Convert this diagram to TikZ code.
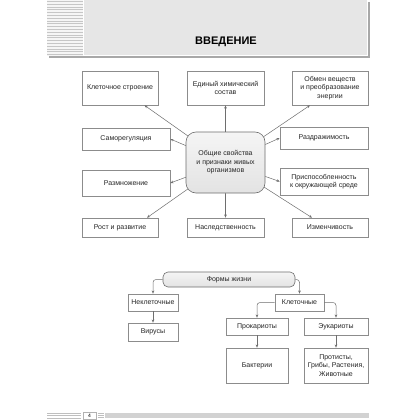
\documentclass[tikz,border=0pt]{standalone}
\usepackage{fontspec}
\setmainfont{Liberation Sans}
\usetikzlibrary{arrows.meta}
\definecolor{bordc}{HTML}{8C8C8C}
\definecolor{linec}{HTML}{6E6E6E}
\definecolor{hdr}{HTML}{E6E6E6}
\definecolor{shad}{HTML}{A8A8A8}
\begin{document}
\begin{tikzpicture}[x=1pt,y=-1pt,
  box/.style={draw=bordc, line width=0.6pt, fill=white, inner sep=0pt, align=center,
    font=\fontsize{7}{8.5}\selectfont, text=black!85},
  hub/.style={box, rounded corners=10pt, top color=gray!8, bottom color=gray!22, draw=linec},
  arr/.style={draw=linec, line width=0.5pt, -{Stealth[length=3.2pt,width=2.6pt]}},
  conn/.style={arr, rounded corners=3pt}]
\useasboundingbox (0,0) rectangle (420,420);
\fill[white] (0,0) rectangle (420,420);
% header
\fill[shad] (49,2) rectangle (370,58);
\fill[hdr] (47,0) rectangle (368,56);
\fill[gray!8] (47,0) rectangle (83,56);
\foreach \yy in {1.5,4.3,...,55} \draw[gray!45, line width=0.9pt] (47,\yy) -- (83,\yy);
\draw[white, line width=0.7pt] (83.3,0) -- (83.3,55.3) -- (367.3,55.3) -- (367.3,0);
\node[font=\fontsize{11}{13}\selectfont\bfseries, text=black] (title) at (226,42) {ВВЕДЕНИЕ};
% upper diagram boxes
\node[box, minimum width=76pt, minimum height=34pt] (kl) at (120,88) {Клеточное строение};
\node[box, minimum width=77pt, minimum height=34pt] (ed) at (225.5,88) {Единый химический\\состав};
\node[box, minimum width=76pt, minimum height=34pt] (ob) at (330,88) {Обмен веществ\\и преобразование\\энергии};
\node[box, minimum width=88pt, minimum height=22pt] (sam) at (126,139) {Саморегуляция};
\node[box, minimum width=88pt, minimum height=22pt] (raz) at (324,138) {Раздражимость};
\node[box, minimum width=88pt, minimum height=26pt] (razm) at (126,183) {Размножение};
\node[box, minimum width=88pt, minimum height=27pt] (pri) at (324,181.5) {Приспособленность\\к окружающей среде};
\node[box, minimum width=76pt, minimum height=19pt] (rost) at (120,227.5) {Рост и развитие};
\node[box, minimum width=77pt, minimum height=19pt] (nas) at (225.5,227.5) {Наследственность};
\node[box, minimum width=76pt, minimum height=19pt] (izm) at (330,227.5) {Изменчивость};
\coordinate (cc) at (225.5,162.5);
\draw[arr] (cc) -- (kl);
\draw[arr] (cc) -- (ed);
\draw[arr] (cc) -- ([xshift=-20pt]ob.south);
\draw[arr] (cc) -- (sam.east);
\draw[arr] (cc) -- (raz.west);
\draw[arr] (cc) -- (razm.east);
\draw[arr] (cc) -- (pri.west);
\draw[arr] (cc) -- ([xshift=27pt]rost.north);
\draw[arr] (cc) -- (nas);
\draw[arr] (cc) -- ([xshift=-18pt]izm.north);
\node[hub, minimum width=79pt, minimum height=61pt] (hubn) at (cc) {Общие свойства\\и признаки живых\\организмов};
% lower diagram
\node[box, rounded corners=5pt, top color=gray!8, bottom color=gray!22, draw=linec,
  minimum width=132pt, minimum height=15pt] (fj) at (229,279.5) {Формы жизни};
\node[box, minimum width=50pt, minimum height=17pt] (nk) at (153,302.5) {Неклеточные};
\node[box, minimum width=50pt, minimum height=18pt] (vir) at (153,332) {Вирусы};
\node[box, minimum width=49pt, minimum height=17pt] (kle) at (299.5,302.5) {Клеточные};
\node[box, minimum width=62pt, minimum height=17pt] (pro) at (257,326.5) {Прокариоты};
\node[box, minimum width=64pt, minimum height=17pt] (euk) at (336,326.5) {Эукариоты};
\node[box, minimum width=62pt, minimum height=35pt] (bak) at (257,365.5) {Бактерии};
\node[box, minimum width=64pt, minimum height=35pt] (prot) at (336,365.5) {Протисты,\\Грибы, Растения,\\Животные};
\draw[conn] (fj.west) -| (nk.north);
\draw[arr] (nk) -- (vir);
\draw[conn] (fj.east) -| (kle.north);
\draw[conn] (kle.west) -| (pro.north);
\draw[conn] (kle.east) -| (euk.north);
\draw[arr] (pro) -- (bak);
\draw[arr] (euk) -- (prot);
% footer
\foreach \yy in {413,415.5,418} \draw[gray!50, line width=0.5pt] (47,\yy) -- (81,\yy);
\node[draw=gray!60, fill=white, minimum width=13pt, minimum height=7.5pt, inner sep=0pt,
  font=\fontsize{5}{6}\selectfont] (pg) at (89.5,415.5) {4};
\foreach \yy in {413.5,415.5,417.5} \draw[gray!50, line width=0.5pt] (97.5,\yy) -- (104,\yy);
\fill[gray!35] (105,413) rectangle (369,418);
\end{tikzpicture}
\end{document}
